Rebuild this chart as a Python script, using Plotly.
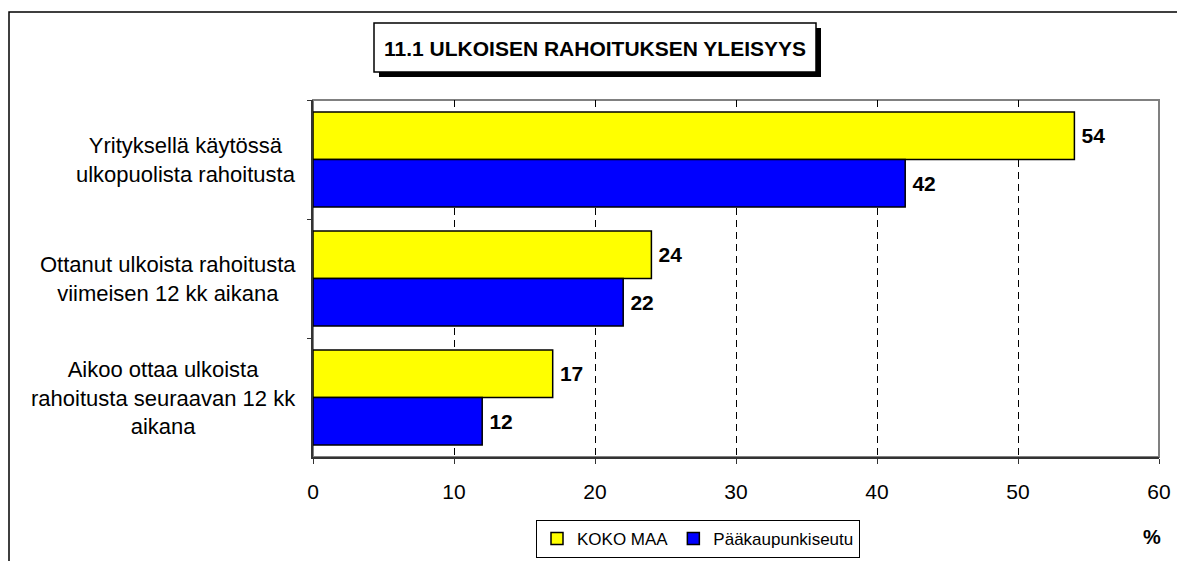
import plotly.graph_objects as go

categories = [
    "Yrityksellä käytössä<br>ulkopuolista rahoitusta",
    "Ottanut ulkoista rahoitusta<br>viimeisen 12 kk aikana",
    "Aikoo ottaa ulkoista<br>rahoitusta seuraavan 12 kk<br>aikana",
]
series_names = ["KOKO MAA", "Pääkaupunkiseutu"]
koko_maa = [54, 24, 17]
paakaupunkiseutu = [42, 22, 12]
x_ticks = [0, 10, 20, 30, 40, 50, 60]
title_text = "11.1 ULKOISEN RAHOITUKSEN YLEISYYS"
unit_text = "%"

OFF = 8  # default page body margin
PAGE_W, PAGE_H = 1185, 561
W, H = PAGE_W - OFF, PAGE_H - OFF
L, R, T, B = 313, 1159, 100, 457  # plot area in page pixels
PW, PH = R - L, B - T


def px(xp):
    return (xp - L) / PW


def py(yp):
    return (B - yp) / PH


FONT = "Liberation Sans, Arial, sans-serif"

fig = go.Figure()
for name, vals, color in [
    (series_names[0], koko_maa, "#FFFF00"),
    (series_names[1], paakaupunkiseutu, "#0000FF"),
]:
    fig.add_trace(go.Bar(
        y=categories, x=vals, name=name, orientation="h",
        marker=dict(color=color, line=dict(color="black", width=1.5)),
        texttemplate="\u2009%{x}", textposition="outside",
        textfont=dict(family=FONT, size=21, color="black", weight="bold"),
        cliponaxis=False,
    ))

# category labels (centered multi-line blocks)
for c in categories:
    fig.add_annotation(
        x=0, y=c, xref="x", yref="y", text=c, showarrow=False,
        xanchor="right", align="center", xshift=-15,
        font=dict(family=FONT, size=22, color="black"),
    )

shapes = [
    # outer frame
    dict(type="rect", xref="paper", yref="paper",
         x0=px(9), x1=px(1200), y0=py(12), y1=py(600),
         line=dict(color="black", width=1.5), layer="below"),
    # plot area border (grey)
    dict(type="rect", xref="paper", yref="paper",
         x0=0, x1=1, y0=0, y1=1,
         line=dict(color="#808080", width=2), layer="below"),
    # title shadow
    dict(type="rect", xref="paper", yref="paper",
         x0=px(379), x1=px(821), y0=py(77), y1=py(28),
         line=dict(width=0), fillcolor="black", layer="below"),
    # title box
    dict(type="rect", xref="paper", yref="paper",
         x0=px(374), x1=px(816), y0=py(72), y1=py(23),
         line=dict(color="black", width=1.5), fillcolor="white", layer="below"),
]

fig.add_annotation(
    xref="paper", yref="paper", x=px(595), y=py(48),
    text=f"<b>{title_text}</b>", showarrow=False,
    xanchor="center", yanchor="middle",
    font=dict(family=FONT, size=21, color="black"),
)
fig.add_annotation(
    xref="paper", yref="paper", x=px(1152), y=py(537),
    text=f"<b>{unit_text}</b>", showarrow=False,
    xanchor="center", yanchor="middle",
    font=dict(family=FONT, size=20, color="black"),
)

fig.update_layout(
    width=W, height=H,
    margin=dict(l=L - OFF, r=W - (R - OFF), t=T - OFF, b=H - (B - OFF),
                autoexpand=False),
    paper_bgcolor="white", plot_bgcolor="white",
    barmode="group", bargap=0.2, bargroupgap=0,
    font=dict(family=FONT, size=21, color="black"),
    shapes=shapes,
    showlegend=True,
    legend=dict(
        orientation="h", x=px(698), y=py(520), xanchor="center", yanchor="top",
        bordercolor="black", borderwidth=1, bgcolor="white",
        font=dict(family=FONT, size=17, color="black"),
        itemwidth=30, tracegroupgap=0,
    ),
    xaxis=dict(
        range=[0, 60], tickvals=x_ticks, ticktext=[str(v) for v in x_ticks],
        showgrid=True, gridcolor="black", griddash="7px,5px", gridwidth=1,
        showline=True, linecolor="#333333", linewidth=1.5,
        ticks="outside", ticklen=5, tickcolor="#333333",
        ticklabelstandoff=10, zeroline=False, automargin=False,
        tickfont=dict(family=FONT, size=21, color="black"),
    ),
    yaxis=dict(
        categoryorder="array", categoryarray=categories, autorange="reversed",
        showticklabels=False, showline=True, linecolor="#333333", linewidth=1.5,
        ticks="outside", ticklen=4, tickson="boundaries", tickcolor="#333333",
        showgrid=False, automargin=False,
    ),
)

fig.write_html("out.html")
